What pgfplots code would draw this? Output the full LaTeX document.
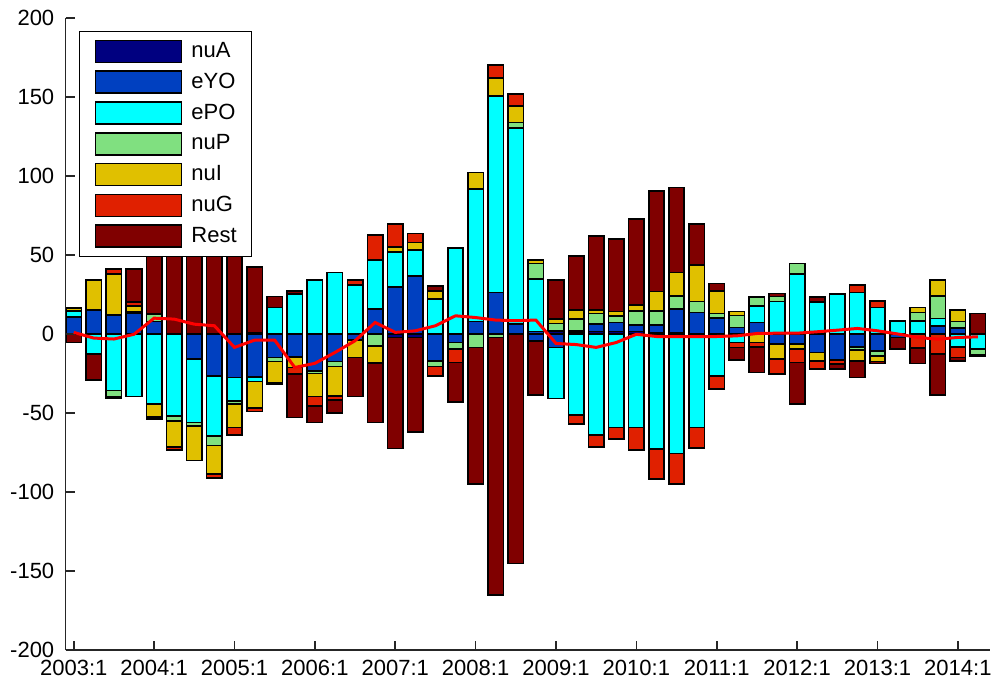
\documentclass[border=0pt]{standalone}
\usepackage{fontspec}
\setmainfont{Liberation Sans}
\usepackage{pgfplots}
\pgfplotsset{compat=1.18}
\usepackage{pgfplotstable}

\definecolor{cA}{RGB}{0,0,128}
\definecolor{cY}{RGB}{0,64,192}
\definecolor{cP}{RGB}{0,255,255}
\definecolor{cN}{RGB}{128,224,128}
\definecolor{cI}{RGB}{224,192,0}
\definecolor{cG}{RGB}{224,32,0}
\definecolor{cR}{RGB}{128,0,0}

% positive contributions (quarter index 0 = 2003:1)
\pgfplotstableread{
q A Y P N I G R
0 0 11.1 3.8 0 1.7 0 0
1 0 15.3 0 0 19 0 0
2 0 12.3 0 0 25.8 3.1 0
3 0 13.5 0 0.9 3.4 2.6 20.8
4 0 8.1 0 4.7 0 0 57
5 0 0 0 0 0 0 70
6 0 0 0 0 0 0 72
7 0 0 0 0 0 0 75
8 0 0 0 0 0 0 68
9 0 0 0 1.2 0 0 41.5
10 0 0 17 0 0 0 6.9
11 0 0 25.4 0 0 0 2.1
12 0 0 34.5 0 0 0 0
13 0 0 39.1 0 0 0 0
14 0 0 31.3 0 0 3.2 0
15 0 15.9 31 0 0 16.1 0
16 0 30.1 22.1 0 3.2 14.3 0
17 0 37 16.5 0 4.6 5.7 0
18 0 0 22.2 0 5.3 0 3.2
19 0 0 54.5 0 0 0 0
20 0 8.1 83.7 0 10.6 0 0
21 0 26.5 124.4 0 11.2 8.4 0
22 0 6.4 124 3.6 10.6 7.4 0
23 0 1.8 33.1 9.9 2.1 0 0
24 2.2 0 0 4.7 2.7 0 24.9
25 1 1.2 0 7.4 5.7 0 34.4
26 1.8 4.6 0 6.8 2.1 0 47
27 1.8 5.7 0 3.9 3.1 0 45.7
28 1.8 4.2 0 8.9 3.8 0 54.2
29 1.2 4.8 0 8.9 12.2 0 63.7
30 1.2 14.7 0 8.5 14.7 0 53.8
31 0 13.8 0 7 23 0 25.9
32 0 10.2 0 3 14.3 0 4.7
33 0 4.2 0 7.6 2.6 0 0
34 0 7.5 10.5 5.7 0 0 0
35 0 0 20.8 3 0 0 2
36 0 0 38.1 6.7 0 0 0
37 0 0 20.6 0 0 0 3.1
38 0 0 25.4 0 0 0 0
39 0 0 26.5 0 0 4.6 0
40 0 0 17 0 0 4.2 0
41 0 0 8.5 0 0 0 0
42 0 0 8.5 5.3 3.2 0 0
43 0 5.4 4.6 14.4 9.9 0 0
44 0 3.9 0 4.2 7.2 0 0
45 0 0 0 0 0 0 13.2
}\postab

% negative contributions
\pgfplotstableread{
q A Y P N I G R
0 0 0 0 0 0 0 -5.2
1 0 0 -12.5 0 0 0 -16.5
2 0 0 -35.7 -3.6 0 0 -1
3 0 0 -39.3 0 0 0 0
4 0 0 -44.2 0 -8 0 -1.4
5 0 0 -51.6 -3.1 -16.5 -2.1 0
6 0 -15.7 -40.1 -2.1 -22.1 0 0
7 0 -26.3 -37.9 -6.3 -18 -2.5 0
8 0 -27.3 -14.8 -2 -14.8 -4.8 0
9 0 -26.9 -3 0 -16.8 -2.1 0
10 0 -14.7 0 -2.5 -13.3 0 -1
11 0 -14.2 0 0 -6.8 -4.2 -27.4
12 0 -23.1 0 -1.7 -14.7 -5.7 -10.6
13 0 -17.2 0 -3.2 -18.5 -2.5 -8.5
14 0 -3.7 0 0 -11 0 -24.8
15 0 0 0 -7.3 -10.9 0 -37.6
16 -2 0 0 0 0 0 -70.2
17 -2 0 0 0 0 0 -59.7
18 0 -16.8 0 -3.6 0 -5.9 0
19 0 -5.2 0 -4.2 0 -8.4 -24.9
20 0 0 0 -8.4 0 0 -86.4
21 0 0 0 -2 0 0 -163
22 0 0 0 0 0 0 -145
23 0 -4.1 0 0 0 0 -34.2
24 0 -8.3 -32.3 0 0 0 0
25 0 0 -51 0 0 -5.9 0
26 0 0 -63.6 0 0 -7.6 0
27 0 0 -58.9 0 0 -7.4 0
28 0 0 -58.9 0 0 -14.4 0
29 0 0 -72.7 0 0 -18.9 0
30 0 0 -75.4 0 0 -19.4 0
31 0 0 -58.9 0 0 -13.1 0
32 0 0 -26.3 0 0 -8.4 0
33 0 0 -5.2 0 0 -3.1 -8
34 0 0 0 0 -5.2 -2.7 -16.3
35 0 -6.2 0 0 -9.5 -9.5 0
36 0 -6.2 0 0 -3.2 -8.4 -26.4
37 0 -11.5 0 0 -5.3 -5.2 0
38 0 -16.3 0 0 0 -2.6 -3.1
39 0 -7.9 0 -2.1 -6.8 0 -10.5
40 0 -10.4 0 -3.2 -3.6 0 -1.2
41 0 -2 0 0 0 0 -7.4
42 0 0 0 0 0 -8.7 -9.7
43 0 0 0 0 0 -12.5 -25.8
44 0 0 -7.9 0 0 -6.8 -2.1
45 0 0 -9.4 -3.6 0 0 -1
}\negtab

% red line
\pgfplotstableread{
q v
0 1.2
1 -2.4
2 -3
3 0
4 10.2
5 9.6
6 6.4
7 5.4
8 -8.3
9 -3.7
10 -3.7
11 -21
12 -18.4
13 -11.5
14 -4.1
15 7.5
16 1.2
17 2.2
18 5.4
19 11.7
20 10.6
21 9
22 8.6
23 9
24 -5.8
25 -6.5
26 -8.3
27 -5.2
28 0
29 -1.4
30 -1.4
31 -1.4
32 -1.4
33 -1
34 0.5
35 0.7
36 0.7
37 1.6
38 2.6
39 3.7
40 2.2
41 0.2
42 -2
43 -3.1
44 -2
45 -1.6
}\linetab

\pgfplotsset{
  base/.style={scale only axis, width=462.15pt, height=316pt,
    xmin=-0.4, xmax=45.6, ymin=-200, ymax=200,
    at={(0,0)}, anchor=south west},
  bars/.style={base, ybar stacked, bar width=0.77, hide axis},
  seg/.style={draw=black, line width=0.8pt, fill=#1},
}

\begin{document}
\begin{tikzpicture}
\path[use as bounding box] (-32.85pt,-16.35pt) rectangle (465.15pt,325.15pt);

\begin{axis}[bars]
\addplot[seg=cA] table[x=q,y=A]{\postab};
\addplot[seg=cY] table[x=q,y=Y]{\postab};
\addplot[seg=cP] table[x=q,y=P]{\postab};
\addplot[seg=cN] table[x=q,y=N]{\postab};
\addplot[seg=cI] table[x=q,y=I]{\postab};
\addplot[seg=cG] table[x=q,y=G]{\postab};
\addplot[seg=cR] table[x=q,y=R]{\postab};
\end{axis}

\begin{axis}[bars]
\addplot[seg=cA] table[x=q,y=A]{\negtab};
\addplot[seg=cY] table[x=q,y=Y]{\negtab};
\addplot[seg=cP] table[x=q,y=P]{\negtab};
\addplot[seg=cN] table[x=q,y=N]{\negtab};
\addplot[seg=cI] table[x=q,y=I]{\negtab};
\addplot[seg=cG] table[x=q,y=G]{\negtab};
\addplot[seg=cR] table[x=q,y=R]{\negtab};
\end{axis}

\begin{axis}[base,
  axis lines=left,
  axis line style={-, line width=0.8pt, black!85},
  tick align=inside,
  major tick length=4.7pt,
  tick style={line width=0.8pt, black!85},
  xtick={0,4,...,44},
  xticklabels={2003:1,2004:1,2005:1,2006:1,2007:1,2008:1,2009:1,2010:1,2011:1,2012:1,2013:1,2014:1},
  ytick={-200,-150,...,200},
  /pgf/number format/assume math mode=true,
  tick label style={font=\fontsize{11}{13}\selectfont},
  xticklabel style={yshift=-1.2pt},
  yticklabel style={xshift=-2.2pt},
  legend image code/.code={\draw[#1] (0pt,-5.5pt) rectangle (43pt,5.5pt);},
  legend cell align=left,
  legend style={at={(axis description cs:0.01439,0.98038)}, anchor=north west,
    draw=black, line width=0.6pt, fill=white,
    inner xsep=7.6pt, inner ysep=4.2pt, row sep=3.6pt,
    font=\fontsize{11}{13}\selectfont,
    nodes={inner sep=0pt, text height=8pt, text depth=2pt},
    /tikz/every odd column/.append style={column sep=4.5pt}},
]
\addlegendimage{seg=cA}\addlegendentry{nuA}
\addlegendimage{seg=cY}\addlegendentry{eYO}
\addlegendimage{seg=cP}\addlegendentry{ePO}
\addlegendimage{seg=cN}\addlegendentry{nuP}
\addlegendimage{seg=cI}\addlegendentry{nuI}
\addlegendimage{seg=cG}\addlegendentry{nuG}
\addlegendimage{seg=cR}\addlegendentry{Rest}
\addplot[red, line width=1.5pt, forget plot] table[x=q,y=v]{\linetab};
\end{axis}
\end{tikzpicture}
\end{document}
